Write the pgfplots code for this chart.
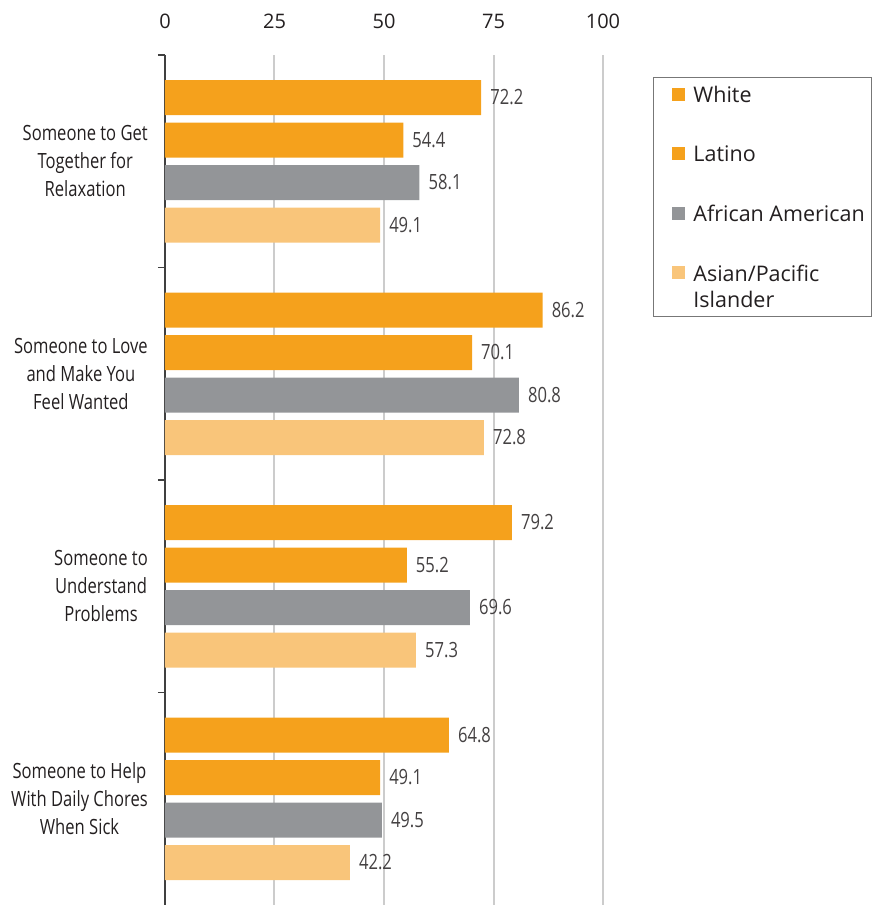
\documentclass[border=0pt]{standalone}
\usepackage{pgfplots}
\pgfplotsset{compat=1.18}
\usepackage{pgfplotstable}
\usepackage{fontspec}
\setmainfont{Open Sans}
\newfontfamily\condfont[FakeStretch=0.79]{Open Sans}
\definecolor{orng}{HTML}{F5A11C}
\definecolor{lorng}{HTML}{F9C57A}
\definecolor{gry}{HTML}{939598}
\definecolor{txt}{HTML}{231F20}
\definecolor{gridc}{HTML}{CCCCCC}
\definecolor{axc}{HTML}{404040}
\definecolor{legc}{HTML}{777777}

\pgfplotsset{
  sqleg/.style={legend image code/.code={\fill[##1, draw=none] (0pt,-6.5pt) rectangle (13pt,6.5pt); \path (-12pt,0pt) (21pt,0pt);}},
  sqlegup/.style={legend image code/.code={\fill[##1, draw=none] (0pt,7pt) rectangle (13pt,20pt); \path (-12pt,0pt) (21pt,0pt);}},
}

% y = bar position (group index + offset), v = value
\pgfplotstableread{
y v
-0.3 72.2
0.7 86.2
1.7 79.2
2.7 64.8
}\white
\pgfplotstableread{
y v
-0.1 54.4
0.9 70.1
1.9 55.2
2.9 49.1
}\latino
\pgfplotstableread{
y v
0.1 58.1
1.1 80.8
2.1 69.6
3.1 49.5
}\afam
\pgfplotstableread{
y v
0.3 49.1
1.3 72.8
2.3 57.3
3.3 42.2
}\asian

\begin{document}
\begin{tikzpicture}
\begin{axis}[
  name=ax,
  scale only axis, width=438pt, height=850pt,
  xmin=0, xmax=100, ymin=-0.5, ymax=3.5, y dir=reverse,
  axis x line*=top, axis y line*=left,
  x axis line style={draw=none},
  y axis line style={draw=axc, line width=1.2pt},
  xtick={25,50,75,100},
  extra x ticks={0}, extra x tick style={grid=none},
  xmajorgrids, grid style={gridc, line width=2pt},
  xtick style={draw=none}, 
  xticklabel style={font=\fontsize{20}{22}\selectfont, text=txt, anchor=base, inner sep=0pt, yshift=19pt},
  /pgf/number format/assume math mode=true,
  ytick={-0.5,0.5,1.5,2.5}, yticklabel=\empty,
  ytick style={draw=axc, line width=1.2pt},
  tick align=outside, major tick length=7pt,
  extra y ticks={0,1,2,3},
  extra y tick labels={{Someone to Get\\Together for\\Relaxation},{Someone to Love\\and Make You\\Feel Wanted},{Someone to\\Understand\\Problems},{Someone to Help\\With Daily Chores\\When Sick}},
  extra y tick style={major tick length=0pt, tick style={draw=none},
    yticklabel style={font=\condfont\fontsize{21}{28}\selectfont, text=txt, align=center, anchor=east, inner sep=0pt, xshift=-17pt}},
  xbar, bar width=35pt, bar shift=0pt,
  nodes near coords={\pgfmathprintnumber[fixed,fixed zerofill,precision=1]{\pgfplotspointmeta}},
  nodes near coords style={font=\condfont\fontsize{21}{22}\selectfont, text=txt!85, anchor=west, inner sep=0pt, xshift=9pt},
  legend style={at={(axis description cs:1.1142,0.9741)}, anchor=north west,
    draw=legc, line width=0.8pt, inner xsep=7pt, inner ysep=9pt,
    font=\fontsize{21.5}{26}\selectfont, text=txt, row sep=43pt,
    nodes={inner sep=0pt, text depth={}, align=left}},
  legend cell align=left,
  sqleg,
]
\coordinate (tl) at (axis description cs:0,1);
\addplot[fill=orng, draw=none] table[x=v, y=y] {\white};
\addlegendentry{White}
\addplot[fill=orng, draw=none] table[x=v, y=y] {\latino};
\addlegendentry{Latino}
\addplot[fill=gry, draw=none] table[x=v, y=y] {\afam};
\addlegendentry{African American}
\addplot[fill=lorng, draw=none, sqlegup] table[x=v, y=y] {\asian};
\addlegendentry{Asian/Pacific\\Islander}
\end{axis}
\pgfresetboundingbox
\path[use as bounding box] ([xshift=-165pt,yshift=55pt]tl) rectangle ([xshift=709pt,yshift=-850pt]tl);
\end{tikzpicture}
\end{document}
